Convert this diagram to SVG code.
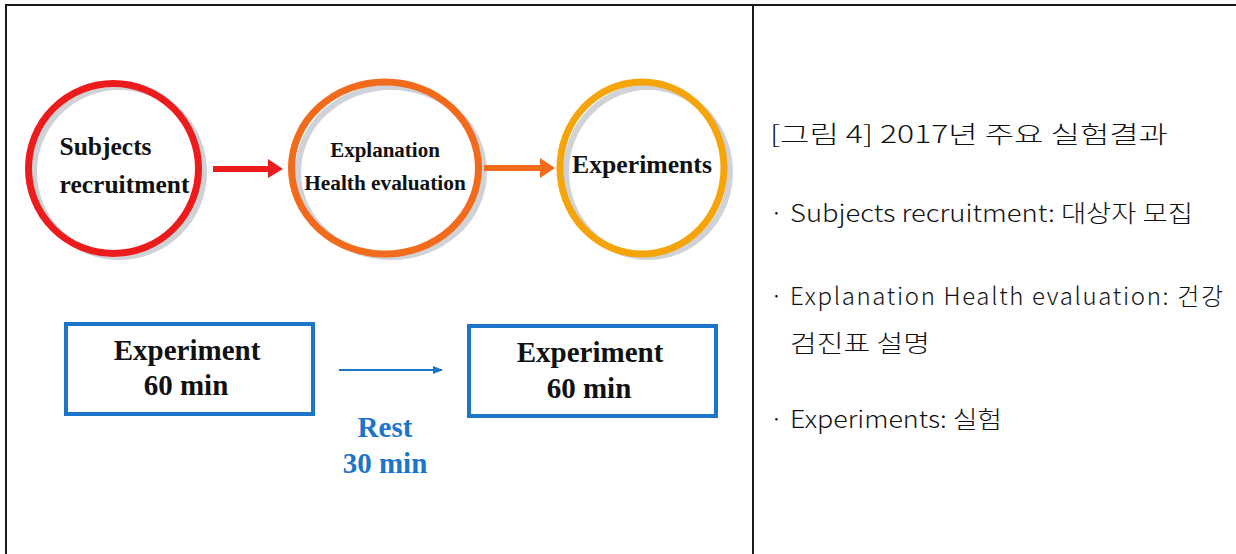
<svg xmlns="http://www.w3.org/2000/svg" width="1236" height="554" viewBox="0 0 1236 554">
<style>
.frame{stroke:#1a1a1a;stroke-width:2;fill:none}
.shadow{fill:none;stroke:#cfd3d8;stroke-width:6}
.ring{fill:none;stroke-width:7}
.lbl{font-family:"Liberation Serif","Times New Roman",serif;font-weight:bold;fill:#111;text-anchor:middle}
.box{fill:#fff;stroke:#1c75c8;stroke-width:4}
.rest{font-family:"Liberation Serif","Times New Roman",serif;font-weight:bold;fill:#1c75c8;text-anchor:middle;font-size:29px}
.kr{font-family:"Noto Sans CJK KR","Noto Sans",sans-serif;font-size:24px;font-weight:300;fill:#111}
</style>
<defs>
<marker id="blueHead" markerWidth="10" markerHeight="8" refX="9" refY="4" orient="auto" markerUnits="userSpaceOnUse">
<path d="M0,0 L10,4 L0,8 Z" fill="#1c75c8"/>
</marker>
</defs>
<rect x="0" y="0" width="1236" height="554" fill="#fff"/>
<g id="table">
<line class="frame" x1="5" y1="5" x2="1236" y2="5"/>
<line class="frame" x1="6" y1="5" x2="6" y2="554"/>
<line class="frame" x1="753" y1="5" x2="753" y2="554"/>
</g>
<g id="node-subjects">
<ellipse class="shadow" cx="119" cy="172" rx="85" ry="85"/>
<ellipse class="ring" cx="113.5" cy="168.5" rx="85" ry="85" stroke="#ec1c1c"/>
<text class="lbl" x="105.5" y="155" font-size="25.5">Subjects</text>
<text class="lbl" x="124.5" y="193" font-size="25.5">recruitment</text>
</g>
<g id="node-explanation">
<ellipse class="shadow" cx="391" cy="172" rx="93" ry="85"/>
<ellipse class="ring" cx="385" cy="168" rx="93.5" ry="86" stroke="#f26b1d"/>
<text class="lbl" x="385" y="157" font-size="21">Explanation</text>
<text class="lbl" x="385" y="190" font-size="21.3">Health evaluation</text>
</g>
<g id="node-experiments">
<ellipse class="shadow" cx="648" cy="172" rx="82" ry="85"/>
<ellipse class="ring" cx="642" cy="168" rx="82" ry="86" stroke="#f5a50a"/>
<text class="lbl" x="642" y="173" font-size="25.7">Experiments</text>
</g>
<g id="node-exp1">
<rect class="box" x="66" y="324" width="247" height="90"/>
<text class="lbl" x="187" y="360" font-size="29">Experiment</text>
<text class="lbl" x="186" y="395" font-size="29">60 min</text>
</g>
<g id="node-exp2">
<rect class="box" x="469" y="326" width="247" height="90"/>
<text class="lbl" x="590" y="362" font-size="29">Experiment</text>
<text class="lbl" x="589" y="398" font-size="29">60 min</text>
</g>
<g id="connectors">
<polygon points="213,166 268,166 268,159 283,169 268,178 268,172 213,172" fill="#ec1c1c"/>
<polygon points="484,165 540,165 540,158 555,168 540,178 540,171 484,171" fill="#f26b1d"/>
<line x1="339" y1="370" x2="442" y2="370" stroke="#1c75c8" stroke-width="2" marker-end="url(#blueHead)"/>
</g>
<g id="rest-label">
<text class="rest" x="385" y="437">Rest</text>
<text class="rest" x="385" y="473">30 min</text>
</g>
<g id="caption">
<text class="kr" x="770" y="143" textLength="398" lengthAdjust="spacingAndGlyphs">[그림 4] 2017년 주요 실험결과</text>
<text class="kr" x="770" y="222"><tspan>·</tspan><tspan x="790" textLength="403" lengthAdjust="spacingAndGlyphs">Subjects recruitment: 대상자 모집</tspan></text>
<text class="kr" x="770" y="305"><tspan>·</tspan><tspan x="790" textLength="433" lengthAdjust="spacing">Explanation Health evaluation: 건강</tspan></text>
<text class="kr" x="790" y="352" textLength="140" lengthAdjust="spacingAndGlyphs">검진표 설명</text>
<text class="kr" x="770" y="428"><tspan>·</tspan><tspan x="790" textLength="212" lengthAdjust="spacingAndGlyphs">Experiments: 실험</tspan></text>
</g>
</svg>
